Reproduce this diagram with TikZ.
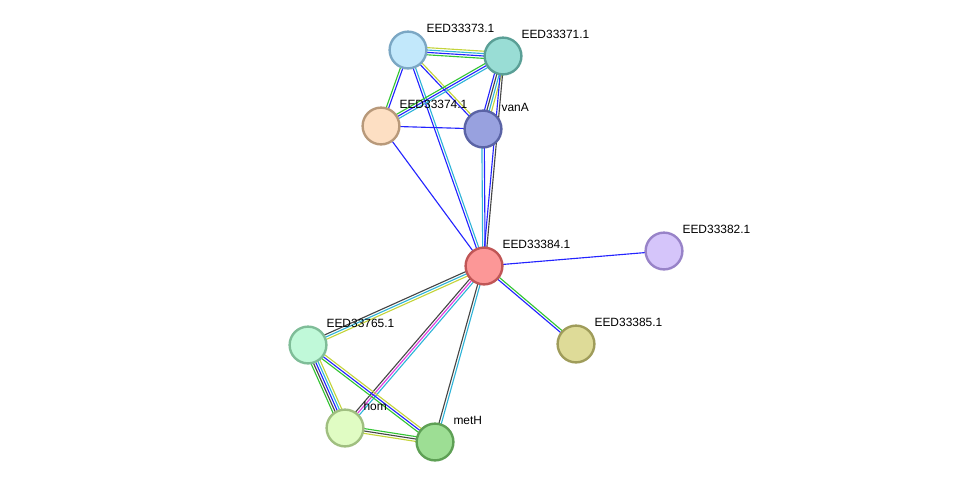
\documentclass[tikz,border=0pt]{standalone}
\usepackage{fontspec}
\setmainfont{Liberation Sans}
\usetikzlibrary{calc,backgrounds}

\definecolor{lnblue}{HTML}{2424FF}
\definecolor{lngreen}{HTML}{33C433}
\definecolor{lncyan}{HTML}{30B4D8}
\definecolor{lnyellow}{HTML}{C4D43C}
\definecolor{lngrey}{HTML}{464646}
\definecolor{lnmagenta}{HTML}{E03CE0}

% bundle of parallel coloured lines between two nodes
\newcommand{\linkset}[4]{%
  \foreach \col [count=\i] in {#4} {
    \pgfmathsetmacro{\off}{(\i-(#3+1)/2)*1.7}
    \draw[color=\col, line width=0.8pt] ($(#1)!\off pt!90:(#2)$) -- ($(#2)!\off pt!-90:(#1)$);
  }%
}

\begin{document}
\begin{tikzpicture}[
    prot/.style={circle, line width=1.7pt, minimum size=0.92cm, inner sep=0pt},
    plabel/.style={label={[font=\fontsize{8.5}{10}\selectfont, anchor=west, inner sep=0pt, xshift=0.11cm, yshift=0.2cm]north east:#1}}
  ]
  \useasboundingbox (0,0) rectangle (24.4,-12.2);

  % Proteins
  \node[prot, fill={rgb,255:red,194;green,232;blue,251}, draw={rgb,255:red,123;green,167;blue,196}, plabel={EED33373.1}] (e73) at (10.2,-1.25) {};
  \node[prot, fill={rgb,255:red,153;green,221;blue,213}, draw={rgb,255:red,90;green,159;blue,150}, plabel={EED33371.1}] (e71) at (12.575,-1.4) {};
  \node[prot, fill={rgb,255:red,253;green,223;blue,195}, draw={rgb,255:red,184;green,153;blue,122}, plabel={EED33374.1}] (e74) at (9.525,-3.15) {};
  \node[prot, fill={rgb,255:red,152;green,161;blue,223}, draw={rgb,255:red,90;green,99;blue,165}, plabel={vanA}] (vanA) at (12.075,-3.225) {};
  \node[prot, fill={rgb,255:red,252;green,151;blue,151}, draw={rgb,255:red,192;green,86;blue,86}, plabel={EED33384.1}] (e84) at (12.1,-6.65) {};
  \node[prot, fill={rgb,255:red,213;green,197;blue,250}, draw={rgb,255:red,152;green,131;blue,200}, plabel={EED33382.1}] (e82) at (16.6,-6.275) {};
  \node[prot, fill={rgb,255:red,222;green,219;blue,152}, draw={rgb,255:red,159;green,156;blue,90}, plabel={EED33385.1}] (e85) at (14.4,-8.6) {};
  \node[prot, fill={rgb,255:red,192;green,249;blue,217}, draw={rgb,255:red,127;green,189;blue,152}, plabel={EED33765.1}] (e765) at (7.7,-8.625) {};
  \node[prot, fill={rgb,255:red,224;green,252;blue,195}, draw={rgb,255:red,160;green,191;blue,128}, plabel={hom}] (hom) at (8.625,-10.7) {};
  \node[prot, fill={rgb,255:red,157;green,222;blue,148}, draw={rgb,255:red,94;green,160;blue,85}, plabel={metH}] (metH) at (10.875,-11.05) {};

  % Links
  \begin{pgfonlayer}{background}
    \linkset{e73}{e71}{4}{lngreen,lnblue,lncyan,lnyellow}
    \linkset{e73}{e74}{2}{lngreen,lnblue}
    \linkset{e73}{vanA}{2}{lnblue,lnyellow}
    \linkset{e73}{e84}{2}{lnblue,lncyan}
    \linkset{e71}{e74}{3}{lngreen,lnblue,lncyan}
    \linkset{e71}{vanA}{4}{lnblue,lngrey,lncyan,lnyellow}
    \linkset{e71}{e84}{2}{lnblue,lngrey}
    \linkset{e74}{vanA}{1}{lnblue}
    \linkset{e74}{e84}{1}{lnblue}
    \linkset{vanA}{e84}{2}{lncyan,lnblue}
    \linkset{e84}{e82}{1}{lnblue}
    \linkset{e84}{e85}{2}{lnblue,lngreen}
    \linkset{e84}{e765}{3}{lngrey,lncyan,lnyellow}
    \linkset{e84}{hom}{3}{lngrey,lnmagenta,lncyan}
    \linkset{e84}{metH}{2}{lngrey,lncyan}
    \linkset{e765}{hom}{5}{lngreen,lngrey,lnblue,lncyan,lnyellow}
    \linkset{e765}{metH}{3}{lngreen,lnblue,lnyellow}
    \linkset{hom}{metH}{3}{lnyellow,lngrey,lngreen}
  \end{pgfonlayer}
\end{tikzpicture}
\end{document}
